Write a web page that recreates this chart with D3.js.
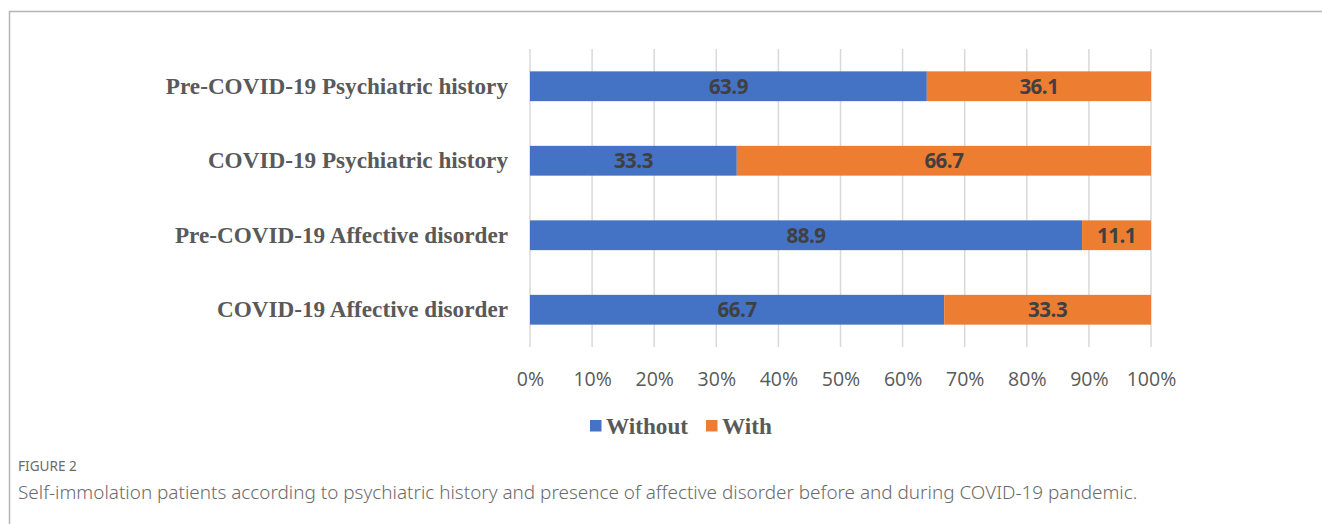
<!DOCTYPE html>
<html>
<head>
<meta charset="utf-8">
<script src="https://cdn.jsdelivr.net/npm/d3@7"></script>
<style>
  html, body { margin: 0; padding: 0; background: #fff; }
  svg { display: block; }
</style>
</head>
<body>
<svg id="chart" width="1322" height="524"></svg>
<script>
// Categories, top to bottom
const categories = [
  "Pre-COVID-19 Psychiatric history",
  "COVID-19 Psychiatric history",
  "Pre-COVID-19 Affective disorder",
  "COVID-19 Affective disorder"
];
// Percent of patients in each group
const withoutValues = [63.9, 33.3, 88.9, 66.7];
const withValues = [36.1, 66.7, 11.1, 33.3];
const seriesNames = ["Without", "With"];
const seriesColors = ["#4472C4", "#ED7D31"];
const tickValues = [0, 10, 20, 30, 40, 50, 60, 70, 80, 90, 100];
const figureLabel = "FIGURE 2";
const captionText = "Self-immolation patients according to psychiatric history and presence of affective disorder before and during COVID-19 pandemic.";

const svg = d3.select("#chart");

// Frame lines along top and left edges
svg.append("line").attr("x1", 9.5).attr("x2", 1322).attr("y1", 11.5).attr("y2", 11.5)
  .attr("stroke", "#b5b5b5").attr("stroke-width", 1.5);
svg.append("line").attr("x1", 9.5).attr("x2", 9.5).attr("y1", 11).attr("y2", 524)
  .attr("stroke", "#b5b5b5").attr("stroke-width", 1.5);

const x = d3.scaleLinear().domain([0, 100]).range([530, 1151]);
const y = d3.scaleBand().domain(categories).range([49, 347]).paddingInner(0.6).paddingOuter(0.3);

// Vertical gridlines
svg.append("g").selectAll("line").data(tickValues).join("line")
  .attr("x1", d => x(d)).attr("x2", d => x(d))
  .attr("y1", 49).attr("y2", 347)
  .attr("stroke", "#d9d9d9").attr("stroke-width", 1.5);

// Stacked data
const rows = categories.map((c, i) => ({ cat: c, Without: withoutValues[i], With: withValues[i] }));
const stack = d3.stack().keys(seriesNames)(rows);

const layers = svg.append("g").selectAll("g").data(stack).join("g")
  .attr("fill", (d, i) => seriesColors[i]);

layers.selectAll("rect").data(d => d).join("rect")
  .attr("x", d => x(d[0]))
  .attr("width", d => x(d[1]) - x(d[0]))
  .attr("y", d => y(d.data.cat))
  .attr("height", y.bandwidth());

// Value labels
layers.selectAll("text").data((d, i) => d.map(v => ({ v, key: seriesNames[i] }))).join("text")
  .attr("x", d => (x(d.v[0]) + x(d.v[1])) / 2)
  .attr("y", d => y(d.v.data.cat) + y.bandwidth() / 2)
  .attr("dy", "0.36em")
  .attr("text-anchor", "middle")
  .attr("fill", "#404040")
  .attr("font-family", "'Open Sans', sans-serif")
  .attr("font-weight", 700)
  .attr("font-size", 20.5)
  .attr("letter-spacing", -0.5)
  .text(d => d.v.data[d.key].toFixed(1));

// Category labels
const yAxis = d3.axisLeft(y).tickSize(0).tickPadding(22);
const yg = svg.append("g").attr("transform", `translate(${x(0)},0)`).call(yAxis);
yg.select(".domain").remove();
yg.selectAll("text")
  .attr("fill", "#595959")
  .attr("font-family", "'Liberation Serif', 'Times New Roman', serif")
  .attr("font-weight", 700)
  .attr("font-size", 23.2);

// Percentage axis
const xAxis = d3.axisBottom(x).tickValues(tickValues).tickSize(0).tickPadding(0)
  .tickFormat(d => d + "%");
const xg = svg.append("g").attr("transform", "translate(0,386)").call(xAxis);
xg.select(".domain").remove();
xg.selectAll("text")
  .attr("dy", 0)
  .attr("y", 0)
  .attr("fill", "#595959")
  .attr("font-family", "'Open Sans', sans-serif")
  .attr("font-size", 19.5);

// Legend
const legend = svg.append("g");
const legendItems = [
  { name: seriesNames[0], color: seriesColors[0], x: 590 },
  { name: seriesNames[1], color: seriesColors[1], x: 706 }
];
legendItems.forEach(it => {
  legend.append("rect").attr("x", it.x).attr("y", 420).attr("width", 11.5).attr("height", 11.5)
    .attr("fill", it.color);
  legend.append("text").attr("x", it.x + 16).attr("y", 434)
    .attr("fill", "#595959")
    .attr("font-family", "'Liberation Serif', 'Times New Roman', serif")
    .attr("font-weight", 700)
    .attr("font-size", 23.2)
    .text(it.name);
});

// Caption
svg.append("text").attr("x", 18).attr("y", 471)
  .attr("fill", "#6b6b6b")
  .attr("font-family", "'Noto Sans', sans-serif")
  .attr("font-size", 13.6)
  .text(figureLabel);
svg.append("text").attr("x", 18).attr("y", 498.5)
  .attr("fill", "#6b6b6b")
  .attr("font-family", "'Noto Sans', sans-serif")
  .attr("font-weight", 300)
  .attr("font-size", 18.9)
  .text(captionText);
</script>
</body>
</html>
